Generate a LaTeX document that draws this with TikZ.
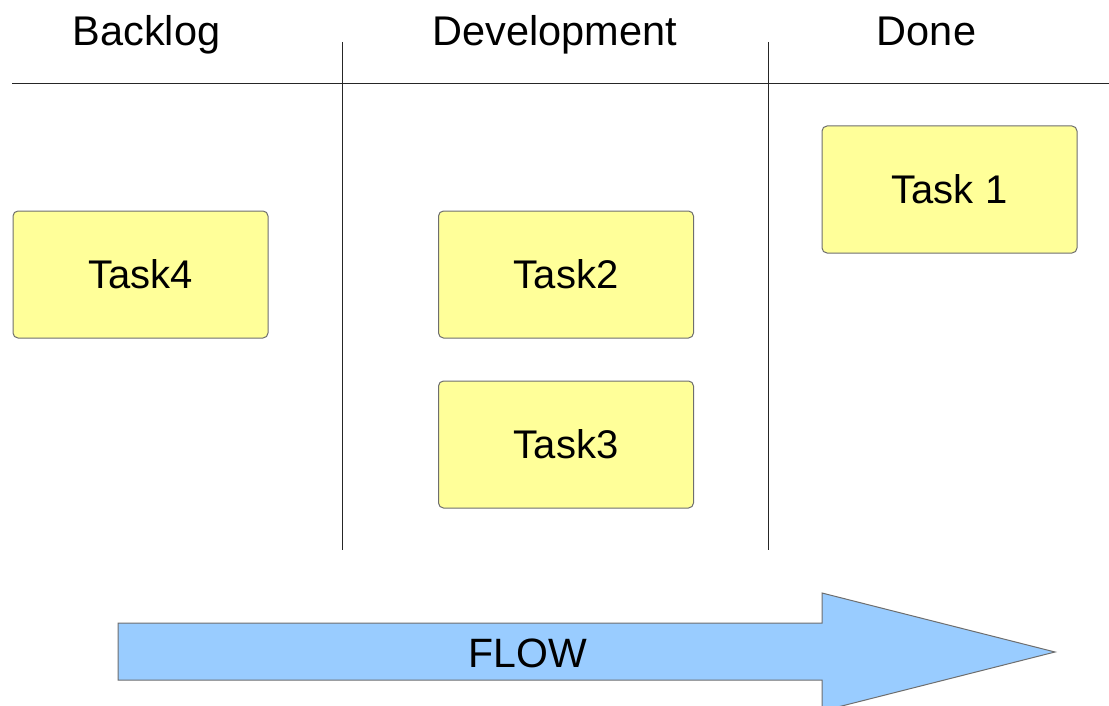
\documentclass[tikz,border=0pt]{standalone}
\usepackage{fontspec}
\setmainfont{Liberation Sans}
\definecolor{notefill}{HTML}{FFFF99}
\definecolor{noteedge}{HTML}{6E6E6E}
\definecolor{flowfill}{HTML}{99CCFF}
\tikzset{
  task/.style={draw=noteedge, line width=1pt, fill=notefill, rounded corners=5pt,
    minimum width=255pt, minimum height=127pt, font=\fontsize{40}{48}\selectfont, inner sep=0pt},
  header/.style={font=\fontsize{41.5}{49}\selectfont, inner sep=0pt, anchor=base},
  flowlabel/.style={font=\fontsize{41}{49}\selectfont, inner sep=0pt},
  rule/.style={draw=black!85, line width=0.9pt},
}
\begin{document}
\begin{tikzpicture}[x=1pt, y=-1pt]
  \clip (0,0) rectangle (1109,706);
  \useasboundingbox (0,0) rectangle (1109,706);

  % column headers
  \node[header] (hbacklog) at (146.5,46) {Backlog};
  \node[header] (hdev) at (554.5,46) {Development};
  \node[header] (hdone) at (926.5,46) {Done};

  % board lines
  \coordinate (hl) at (12,83);
  \coordinate (hr) at (1109,83);
  \coordinate (v1t) at (342,42);
  \coordinate (v1b) at (342,550);
  \coordinate (v2t) at (768,42);
  \coordinate (v2b) at (768,550);
  \draw[rule] (hl) -- (hr);
  \draw[rule] (v1t) -- (v1b);
  \draw[rule] (v2t) -- (v2b);

  % task cards
  \node[task] (task4) at (140.5,274.5) {Task4};
  \node[task] (task2) at (566,274.5) {Task2};
  \node[task] (task3) at (566,444.5) {Task3};
  \node[task] (task1) at (949.5,189.5) {Task 1};

  % flow arrow
  \draw[fill=flowfill, draw=noteedge, line width=1pt, line join=miter]
    (118,623) -- (822,623) -- (822,593) -- (1055,652) -- (822,711) -- (822,680) -- (118,680) -- cycle;
  \node[flowlabel] (flow) at (528,653) {FLOW};
\end{tikzpicture}
\end{document}
